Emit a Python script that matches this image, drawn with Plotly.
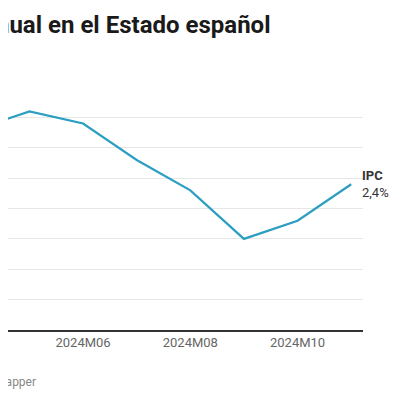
import plotly.graph_objects as go

# IPC interanual (%), 2024M04 - 2024M11
months = [4, 5, 6, 7, 8, 9, 10, 11]
month_labels = ['2024M04', '2024M05', '2024M06', '2024M07', '2024M08', '2024M09', '2024M10', '2024M11']
ipc = [3.3, 3.6, 3.4, 2.8, 2.3, 1.5, 1.8, 2.4]

tick_months = [6, 8, 10]
tick_labels = ['2024M06', '2024M08', '2024M10']
y_ticks = [0, 0.5, 1, 1.5, 2, 2.5, 3, 3.5, 4]

x_range = [4.6, 11.22]

fig = go.Figure()
fig.add_trace(go.Scatter(
    x=months, y=ipc, mode='lines',
    line=dict(color='#2b9ec1', width=2.2),
    hoverinfo='skip', showlegend=False,
))

# label on the last point
fig.add_annotation(
    x=months[-1], y=ipc[-1], xref='x', yref='y',
    text='<b>IPC</b><br>' + ('%.1f' % ipc[-1]).replace('.', ',') + '%',
    showarrow=False, xanchor='left', yanchor='middle', align='left',
    xshift=9, yshift=0,
    font=dict(family='Roboto', size=13, color='#333333'),
)

# first tick label, partly outside the visible page
fx = (months[0] - x_range[0]) / (x_range[1] - x_range[0])
fig.add_annotation(
    x=fx, y=0, xref='paper', yref='paper', text=month_labels[0],
    showarrow=False, xanchor='center', yanchor='top', yshift=-6,
    font=dict(family='Roboto', size=13, color='#666666'),
)

# title (cut at the left)
fig.add_annotation(
    x=259 / 347, y=1.255, xref='paper', yref='paper',
    text='<b>Inflación interanual en el Estado español</b>',
    showarrow=False, xanchor='right', yanchor='middle',
    font=dict(family='Roboto', size=24, color='#1a1a1a'),
)

# source line
fig.add_annotation(
    x=29 / 347, y=-0.214, xref='paper', yref='paper',
    text='Fuente: INE • Creado con Datawrapper',
    showarrow=False, xanchor='right', yanchor='middle',
    font=dict(family='Roboto', size=12, color='#888888'),
)

fig.update_layout(
    width=392, height=392,
    margin=dict(l=0, r=37, t=79, b=70),
    paper_bgcolor='white', plot_bgcolor='white',
    font=dict(family='Roboto'),
)
fig.update_xaxes(
    range=x_range, tickvals=tick_months, ticktext=tick_labels,
    showgrid=False, zeroline=False, showline=True,
    linecolor='#333333', linewidth=1.5, ticks='',
    tickfont=dict(family='Roboto', size=13, color='#666666'),
)
fig.update_yaxes(
    range=[0, 4.001], tickvals=y_ticks, showticklabels=False,
    showgrid=True, gridcolor='#e6e6e6', gridwidth=1, zeroline=False,
)

fig.write_html('out.html')
